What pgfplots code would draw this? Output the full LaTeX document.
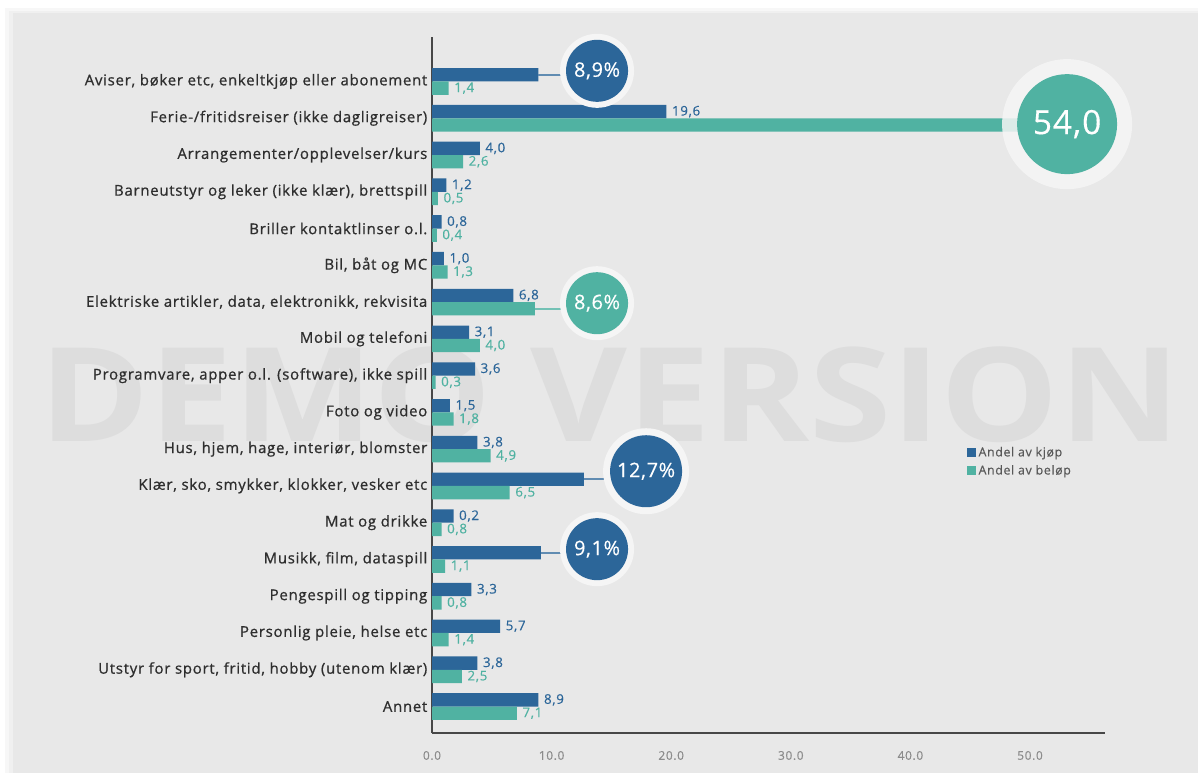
\documentclass[border=0pt]{standalone}
\usepackage{fontspec}
\setmainfont{Open Sans}
\newfontfamily\labelfont[LetterSpace=5, FakeBold=0.8]{Open Sans}
\newfontfamily\valfont[LetterSpace=5, FakeBold=0.3]{Open Sans}
\newfontfamily\bubfont[LetterSpace=3, FakeBold=0.4]{Open Sans}
\usepackage{pgfplots}
\usepackage{pgfplotstable}
\pgfplotsset{compat=1.18}
\definecolor{kjop}{HTML}{2C6699}
\definecolor{belop}{HTML}{50B2A2}
\definecolor{panel}{HTML}{E8E8E8}
\definecolor{ring}{HTML}{F5F5F5}
\definecolor{wm}{HTML}{DDDDDD}

\pgfplotstableread{
y kjop kl belop bl
17 8.9 {} 1.4 {1,4}
16 19.6 {19,6} 54.0 {}
15 4.0 {4,0} 2.6 {2,6}
14 1.2 {1,2} 0.5 {0,5}
13 0.8 {0,8} 0.4 {0,4}
12 1.0 {1,0} 1.3 {1,3}
11 6.8 {6,8} 8.6 {}
10 3.1 {3,1} 4.0 {4,0}
9 3.6 {3,6} 0.3 {0,3}
8 1.5 {1,5} 1.8 {1,8}
7 3.8 {3,8} 4.9 {4,9}
6 12.7 {} 6.5 {6,5}
5 1.8 {0,2} 0.8 {0,8}
4 9.1 {} 1.1 {1,1}
3 3.3 {3,3} 0.8 {0,8}
2 5.7 {5,7} 1.4 {1,4}
1 3.8 {3,8} 2.5 {2,5}
0 8.9 {8,9} 7.1 {7,1}
}\datatable

\begin{document}
\begin{tikzpicture}
\useasboundingbox (0,0) rectangle (898.5pt,-579.75pt);
\fill[white] (0,0) rectangle (898.5pt,-579.75pt);
\fill[black!3] (4pt,-6pt) rectangle (898.5pt,-579.75pt);
\fill[black!6] (7pt,-8pt) rectangle (898.5pt,-579.75pt);
\fill[black!9] (9.5pt,-9.5pt) rectangle (898.5pt,-579.75pt);
\fill[panel] (11.25pt,-10.5pt) rectangle (896pt,-579.75pt);
\node[text=wm, font=\bfseries\fontsize{98}{98}\selectfont, xscale=1.14] at (457.5pt,-296.25pt) {DEMO VERSION};
\begin{axis}[
  at={(576.375pt,-288.75pt)}, anchor=center,
  scale only axis, width=504.75pt, height=522pt,
  xmin=0, xmax=56.27, ymin=-0.72, ymax=18.21,
  xbar, bar width=10pt,
  axis lines=left,
  axis line style={-, draw=black!72, line width=1.1pt},
  xtick={0,10,20,30,40,50},
  major tick length=0pt,
  xticklabel style={font=\valfont\fontsize{9}{10}\selectfont, text=black!45, yshift=-10pt},
  /pgf/number format/.cd, fixed, fixed zerofill, precision=1, assume math mode=true,
  /pgfplots/.cd,
  ytick={0,...,17},
  yticklabels={Annet,
    {Utstyr for sport, fritid, hobby (utenom klær)},
    {Personlig pleie, helse etc},
    Pengespill og tipping,
    {Musikk, film, dataspill},
    Mat og drikke,
    {Klær, sko, smykker, klokker, vesker etc},
    {Hus, hjem, hage, interiør, blomster},
    Foto og video,
    {Programvare, apper o.l. (software), ikke spill},
    Mobil og telefoni,
    {Elektriske artikler, data, elektronikk, rekvisita},
    {Bil, båt og MC},
    Briller kontaktlinser o.l.,
    {Barneutstyr og leker (ikke klær), brettspill},
    Arrangementer/opplevelser/kurs,
    Ferie-/fritidsreiser (ikke dagligreiser),
    {Aviser, bøker etc, enkeltkjøp eller abonement}},
  yticklabel style={font=\labelfont\fontsize{11.2}{12}\selectfont, text=black!82},
  nodes near coords,
  point meta=explicit symbolic,
  nodes near coords style={font=\valfont\fontsize{10}{10}\selectfont, anchor=west, inner sep=1pt, xshift=3pt},
  legend style={at={(0.788,0.419)}, anchor=north west, draw=none, fill=none,
    font=\valfont\fontsize{9.3}{11}\selectfont, text=black!65, row sep=1pt},
  legend cell align=left,
  legend image code/.code={\fill[#1] (0pt,-3.5pt) rectangle (7pt,3.5pt);},
  clip=false,
]
\addplot[fill=kjop, draw=none, bar shift=5pt, every node near coord/.append style={text=kjop}]
  table[x=kjop, y=y, meta=kl] {\datatable};
\addplot[fill=belop, draw=none, bar shift=-5pt, every node near coord/.append style={text=belop}]
  table[x=belop, y=y, meta=bl] {\datatable};
\legend{Andel av kjøp, Andel av beløp}

% 8,9%
\draw[kjop!75, line width=1.5pt] (axis cs:8.9,17.18) -- (axis cs:12,17.18);
\fill[ring] (axis cs:13.8,17.29) circle[radius=27.75pt];
\fill[kjop] (axis cs:13.8,17.29) circle[radius=23.25pt];
\node[text=white, font=\bubfont\fontsize{15}{15}\selectfont] at (axis cs:13.8,17.29) {8,9\%};
% 54,0
\fill[ring, fill opacity=0.85] (axis cs:53.1,15.84) circle[radius=48.75pt];
\fill[belop] (axis cs:53.1,15.84) circle[radius=37.5pt];
\node[text=white, font=\bubfont\fontsize{25}{25}\selectfont] at (axis cs:53.1,15.84) {54,0};
% 8,6%
\draw[belop!80, line width=1.5pt] (axis cs:8.6,10.82) -- (axis cs:12,10.82);
\fill[ring] (axis cs:13.8,10.97) circle[radius=27.75pt];
\fill[belop] (axis cs:13.8,10.97) circle[radius=23.25pt];
\node[text=white, font=\bubfont\fontsize{15}{15}\selectfont] at (axis cs:13.8,10.97) {8,6\%};
% 12,7%
\draw[kjop!75, line width=1.5pt] (axis cs:12.7,6.18) -- (axis cs:16,6.18);
\fill[ring] (axis cs:17.9,6.4) circle[radius=32.25pt];
\fill[kjop] (axis cs:17.9,6.4) circle[radius=27pt];
\node[text=white, font=\bubfont\fontsize{15}{15}\selectfont] at (axis cs:17.9,6.4) {12,7\%};
% 9,1%
\draw[kjop!75, line width=1.5pt] (axis cs:9.1,4.18) -- (axis cs:12,4.18);
\fill[ring] (axis cs:13.8,4.28) circle[radius=27.75pt];
\fill[kjop] (axis cs:13.8,4.28) circle[radius=23.25pt];
\node[text=white, font=\bubfont\fontsize{15}{15}\selectfont] at (axis cs:13.8,4.28) {9,1\%};
\end{axis}
\end{tikzpicture}
\end{document}
